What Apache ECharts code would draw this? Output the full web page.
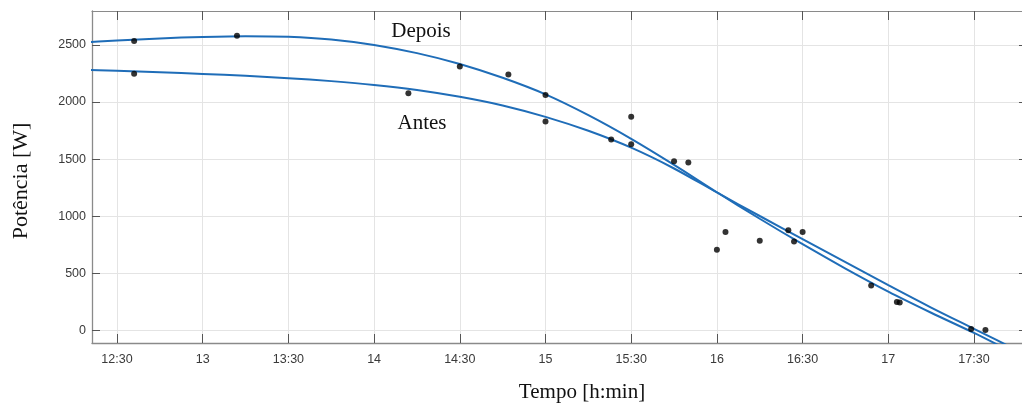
<!DOCTYPE html>
<html>
<head>
<meta charset="utf-8">
<script src="https://cdn.jsdelivr.net/npm/echarts@6/dist/echarts.min.js"></script>
<style>
html,body{margin:0;padding:0;background:#fff;overflow:hidden;}
#chart{width:1022px;height:405px;}
</style>
</head>
<body>
<div id="chart"></div>
<script>
// x values are minutes after 12:00
const xTickValues = [30, 60, 90, 120, 150, 180, 210, 240, 270, 300, 330];
const xTickLabels = ['12:30', '13', '13:30', '14', '14:30', '15', '15:30', '16', '16:30', '17', '17:30'];
const yTickValues = [0, 500, 1000, 1500, 2000, 2500];
const xRange = [21.25, 346.8];
const yRange = [-110, 2797];

const depoisCurve = [[15,2518],[30,2539],[45,2557],[60,2570],[75,2577],[90,2572],[105,2548],[120,2500],[135,2428],[150,2333],[165,2212],[180,2067],[195,1885],[210,1678],[225,1450],[240,1210],[255,978],[270,755],[285,542],[300,340],[315,155],[330,-22],[345,-210],[355,-335]];
const antesCurve = [[15,2284],[30,2273],[45,2260],[60,2246],[75,2229],[90,2209],[105,2183],[120,2150],[135,2106],[150,2046],[165,1970],[180,1870],[195,1748],[210,1600],[225,1418],[240,1208],[255,1002],[270,800],[285,598],[300,396],[315,200],[330,14],[345,-172],[355,-296]];
const measurements = [[36,2535],[36,2248],[72,2581],[132,2077],[150,2310],[167,2240],[180,2062],[180,1829],[203,1671],[210,1872],[210,1631],[225,1482],[230,1470],[240,706],[243,861],[255,785],[265,878],[267,779],[270,861],[294,394],[303,248],[304,245],[329,12],[334,3]];

const curveLabels = ['Depois', 'Antes'];
const xTitle = 'Tempo [h:min]';
const yTitle = 'Potência [W]';

const chart = echarts.init(document.getElementById('chart'));
const axisGray = '#8a8a8a';
const tickCol = '#555';
const gridCol = '#e4e4e4';
const lblFont = {color: '#3a3a3a', fontFamily: 'Liberation Sans', fontSize: 12.5};
const serif = 'Liberation Serif';

function xLabel(v) {
  const i = xTickValues.indexOf(v);
  return i >= 0 ? xTickLabels[i] : '';
}

chart.setOption({
  animation: false,
  backgroundColor: '#fff',
  grid: {left: 92, top: 11, right: 0, height: 332, containLabel: false},
  xAxis: [{
    type: 'value', min: xRange[0], max: xRange[1], position: 'bottom',
    axisLine: {show: true, onZero: false, lineStyle: {color: axisGray, width: 1.3}},
    axisTick: {show: true, inside: true, length: 9, customValues: xTickValues, lineStyle: {color: tickCol}},
    axisLabel: Object.assign({show: true, margin: 10, customValues: xTickValues, formatter: xLabel}, lblFont),
    splitLine: {show: true, lineStyle: {color: gridCol, width: 1}}
  }, {
    type: 'value', min: xRange[0], max: xRange[1], position: 'top',
    axisLine: {show: true, onZero: false, lineStyle: {color: axisGray, width: 1.2}},
    axisTick: {show: true, inside: true, length: 9, customValues: xTickValues, lineStyle: {color: tickCol}},
    axisLabel: {show: false},
    splitLine: {show: false}
  }],
  yAxis: [{
    type: 'value', min: yRange[0], max: yRange[1], position: 'left',
    axisLine: {show: true, onZero: false, lineStyle: {color: axisGray, width: 1.3}},
    axisTick: {show: true, inside: true, length: 8, customValues: yTickValues, lineStyle: {color: tickCol}},
    axisLabel: Object.assign({show: true, margin: 6, customValues: yTickValues, formatter: v => String(v)}, lblFont),
    splitLine: {show: true, lineStyle: {color: gridCol, width: 1}}
  }, {
    type: 'value', min: yRange[0], max: yRange[1], position: 'right',
    axisLine: {show: false},
    axisTick: {show: true, inside: true, length: 3, customValues: yTickValues, lineStyle: {color: tickCol}},
    axisLabel: {show: false},
    splitLine: {show: false}
  }],
  series: [{
    name: curveLabels[0], type: 'line', data: depoisCurve, smooth: 0.3, showSymbol: false,
    lineStyle: {color: '#1f6db8', width: 2}, clip: true, z: 3
  }, {
    name: curveLabels[1], type: 'line', data: antesCurve, smooth: 0.3, showSymbol: false,
    lineStyle: {color: '#1f6db8', width: 2}, clip: true, z: 3
  }, {
    name: 'medições', type: 'scatter', data: measurements, symbolSize: 6,
    itemStyle: {color: '#000'}, z: 4
  }],
  graphic: [
    {type: 'text', x: 421, y: 31, style: {text: curveLabels[0], font: '21px "' + serif + '"', fill: '#111', align: 'center', verticalAlign: 'middle'}},
    {type: 'text', x: 422, y: 123, style: {text: curveLabels[1], font: '21px "' + serif + '"', fill: '#111', align: 'center', verticalAlign: 'middle'}},
    {type: 'text', x: 582, y: 392, style: {text: xTitle, font: '21px "' + serif + '"', fill: '#111', align: 'center', verticalAlign: 'middle'}},
    {type: 'text', x: 21, y: 181, rotation: Math.PI / 2, style: {text: yTitle, font: '22px "' + serif + '"', fill: '#111', align: 'center', verticalAlign: 'middle'}}
  ]
});
</script>
</body>
</html>
